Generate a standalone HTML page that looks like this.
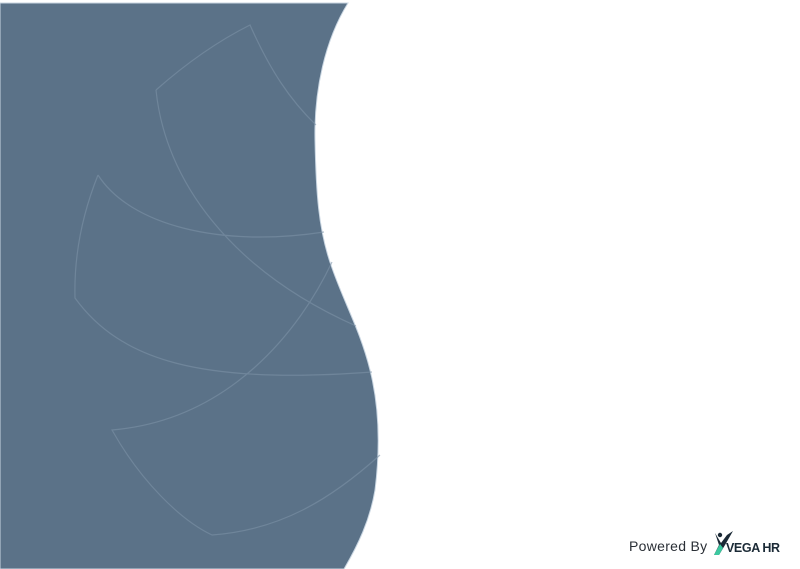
<!DOCTYPE html>
<html><head><meta charset="utf-8"><style>
html,body{margin:0;padding:0;background:#fff;width:800px;height:569px;overflow:hidden}
.pw{position:absolute;left:629px;top:538px;font:14px "Liberation Sans",sans-serif;color:#2a2f36;letter-spacing:0.3px}
.logo{position:absolute;left:711px;top:531px}
</style></head><body>
<svg width="800" height="569" style="position:absolute;left:0;top:0">
<path d="M0,3 L348,3 C325,40 314,90 315,140 C316,190 318,230 332,268 C345,305 360,330 370,370 C380,410 380,450 375,490 C370,520 358,545 344,569 L0,569 Z" fill="#5b7288" stroke="#c9d6e2" stroke-width="1"/>
<g fill="none" stroke="#7d93a7" stroke-width="1.2" opacity="0.6">
<path d="M156,90 C190,60 220,40 250,25 C270,70 290,100 316,125"/>
<path d="M156,90 C165,180 230,270 356,326"/>
<path d="M98,175 C130,225 220,248 324,232"/>
<path d="M98,175 C80,220 74,260 75,298 C120,360 200,385 372,372"/>
<path d="M332,262 C300,330 230,420 112,430 C140,480 180,520 212,535 C280,530 330,500 380,455"/>
</g>
</svg>
<div class="pw">Powered By</div>
<div class="logo">
<svg width="72" height="26">
<path d="M4,2 L10,12 L16,4 L22,0 L14,14 L8,24 L3,24 L8,14 Z" fill="#1b2a36"/>
<path d="M3,24 L9,13 L12,17 L8,24 Z" fill="#3cc9a0"/>
<circle cx="9" cy="4" r="2.2" fill="#1b2a36"/>
<text x="15" y="21" font-family="Liberation Sans, sans-serif" font-weight="bold" font-size="12.5" fill="#1b2a36" letter-spacing="-0.4">VEGA HR</text>
</svg></div>
</body></html>
